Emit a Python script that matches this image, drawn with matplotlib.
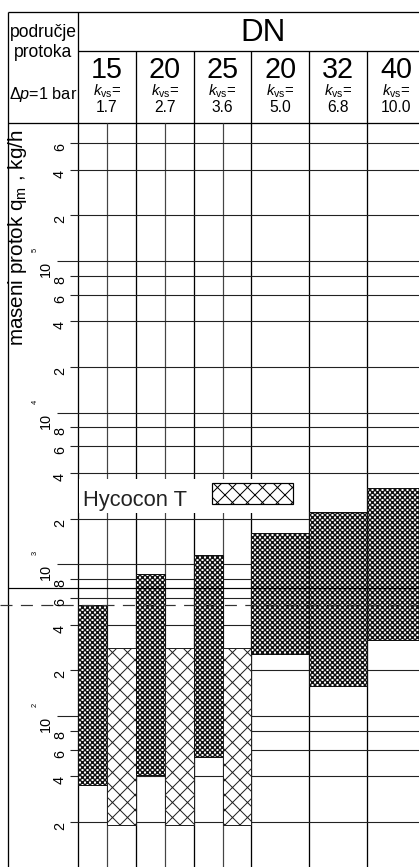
import matplotlib
matplotlib.use('Agg')
import matplotlib.pyplot as plt
from matplotlib.patches import Rectangle

# DN, kvs i područja protoka (kg/h) očitana s dijagrama
dn = ['15', '20', '25', '20', '32', '40']
kvs = ['1.7', '2.7', '3.6', '5.0', '6.8', '10.0']
dense_lo = [35, 41, 54, 256, 158, 317]
dense_hi = [540, 860, 1150, 1600, 2200, 3200]
hyco_lo = [19, 19, 19]
hyco_hi = [280, 280, 280]
line_flow = 700
dash_flow = 540
legend_name = 'Hycocon T'

# layout in pixels
W, H, DPI = 419, 867, 90
X0, XC, CW = 8, 78, 57.8
Y_TOP, Y_DN, Y_HDR = 12, 51, 123
PX = 72.0 / DPI  # one pixel in points

plt.rcParams['font.family'] = ['Liberation Sans', 'DejaVu Sans']
plt.rcParams['mathtext.fontset'] = 'custom'
plt.rcParams['mathtext.rm'] = 'Liberation Sans'
plt.rcParams['mathtext.it'] = 'Liberation Sans:italic'

fig = plt.figure(figsize=(W / DPI, H / DPI), dpi=DPI)

# overlay in pixel coordinates (header, frame, column lines)
ov = fig.add_axes([0, 0, 1, 1], zorder=0)
ov.set_xlim(0, W)
ov.set_ylim(H, 0)
ov.axis('off')

# log plot area
ax = fig.add_axes([0, 0, 1, (H - Y_HDR) / H], zorder=1)
ax.set_xlim(0, W)
ax.set_yscale('log')
ax.set_ylim(10 ** 1.0046, 10 ** 5.9097)
ax.axis('off')
ax.patch.set_visible(False)

lc = '#222222'
# frame and header lines
ov.hlines([Y_TOP, Y_HDR], X0, W, color='k', lw=1.3 * PX)
ov.hlines(Y_DN, XC, W, color='k', lw=1.3 * PX)
ov.vlines([X0, XC], Y_TOP, H, color='k', lw=1.3 * PX)
for i in range(1, 6):
    ov.vlines(XC + CW * i, Y_DN, H, color='k', lw=1.3 * PX)
for i in range(3):
    ov.vlines(XC + CW * i + CW / 2, Y_HDR, H, color='#444444', lw=1.2 * PX)

# header texts
ov.text(43, 37, 'područje', ha='center', va='baseline', fontsize=14)
ov.text(43, 57, 'protoka', ha='center', va='baseline', fontsize=14)
ov.text(43, 99, 'Δ$\\mathit{p}$=1 bar', ha='center', va='baseline', fontsize=13)
ov.text(263, 41, 'DN', ha='center', va='baseline', fontsize=25)
for i in range(len(dn)):
    cx = XC + CW * i + CW / 2
    ov.text(cx, 78, dn[i], ha='center', va='baseline', fontsize=23)
    ov.text(cx, 96, '$\\mathit{k}_{\\mathrm{vs}}$=', ha='center', va='baseline',
            fontsize=12)
    ov.text(cx, 112, kvs[i], ha='center', va='baseline', fontsize=12.5)

# legend
ov.add_patch(Rectangle((79, 479), 226, 34, fc='white', ec='none', zorder=3))
with plt.rc_context({'hatch.linewidth': 1.0 * PX}):
    ov.add_patch(Rectangle((212, 483), 81, 21, fc='white', ec='k', hatch='xx',
                           lw=1.2 * PX, zorder=4))
ov.text(83, 506, legend_name, ha='left', va='baseline', fontsize=17.5, zorder=4,
        color='#222222')

# y axis label
ov.text(18, 238, 'maseni protok $\\mathregular{q_{m}}$ , kg/h', rotation=90,
        ha='center', va='center', fontsize=16.5)

# grid lines and tick labels
for e in range(1, 6):
    if e >= 2:
        ax.hlines(10 ** e, 57, W, color=lc, lw=1.1 * PX, zorder=1)
        ax.text(46, 10 ** e, '10', rotation=90, ha='center', va='top', fontsize=11.5)
        ax.text(35, 10 ** e * 1.18, str(e), rotation=90, ha='center', va='center',
                fontsize=6)
    for m in (2, 4, 6, 8):
        v = m * 10 ** e
        if v > 7e5:
            continue
        ax.hlines(v, 70, W, color=lc, lw=1.1 * PX, zorder=1)
        ax.text(60, v, str(m), rotation=90, ha='center', va='top', fontsize=11.5)

# bars
for i in range(len(dn)):
    left = XC + CW * i
    wdt = CW / 2 if i < 3 else CW
    with plt.rc_context({'hatch.linewidth': 1.4 * PX}):
        ax.bar(left, dense_hi[i] - dense_lo[i], bottom=dense_lo[i], width=wdt,
               align='edge', fc='white', ec='#111111', hatch='xxxxxx', lw=1.0 * PX,
               zorder=2)
    if i < 3:
        with plt.rc_context({'hatch.linewidth': 1.0 * PX}):
            ax.bar(left + CW / 2, hyco_hi[i] - hyco_lo[i], bottom=hyco_lo[i],
                   width=CW / 2, align='edge', fc='white', ec='#222222', hatch='xx',
                   lw=1.0 * PX, zorder=2)

ax.hlines(line_flow, X0, W, color='k', lw=1.2 * PX, zorder=3)
ax.hlines(dash_flow, 0, W, color='#333333', lw=1.2 * PX, linestyles=(0, (10, 7)),
          zorder=3)

fig.savefig('out.png', dpi=DPI)
